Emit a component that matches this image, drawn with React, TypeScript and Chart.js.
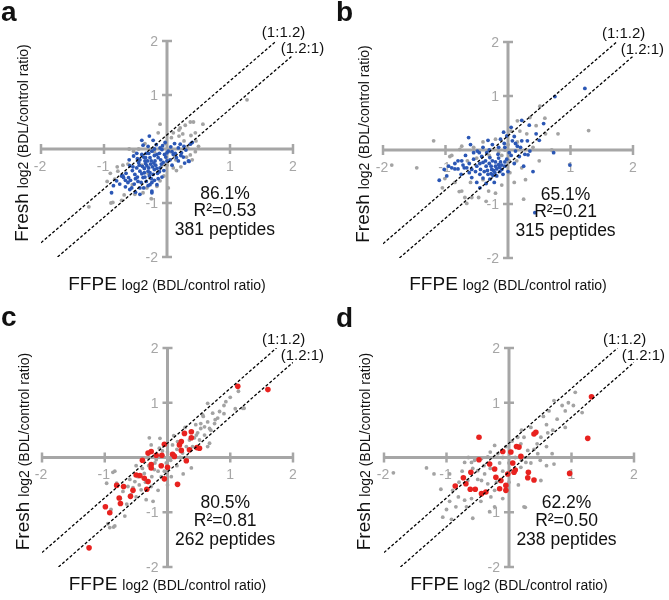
import React, { useEffect, useRef } from "react";
import { Chart, registerables } from "chart.js";
Chart.register(...registerables);

// ---------- data ----------
const axisTicks = [-2, -1, 1, 2];
const ratioOffset = 0.263; // log2(1.2) – reference lines (1:1.2) and (1.2:1)
const panelLetters = ["a", "b", "c", "d"];
const percentLabels = ["86.1%", "65.1%", "80.5%", "62.2%"];
const r2Labels = ["R\u00B2=0.53", "R\u00B2=0.21", "R\u00B2=0.81", "R\u00B2=0.50"];
const peptideLabels = ["381 peptides", "315 peptides", "262 peptides", "238 peptides"];
const lineLabels = ["(1:1.2)", "(1.2:1)"];

type P = [number, number];

const aHighlight: P[] = [
  [-0.28, 0.24], [-0.38, 0.07], [-0.07, 0.06], [0.06, 0.04], [0.21, 0.09], [0.37, 0.09], [0.34, -0.22], [0.1, -0.1],
  [0, -0.07], [-0.16, -0.1], [-0.27, -0.16], [-0.4, -0.1], [-0.48, -0.35], [-0.59, -0.31], [-0.69, -0.53], [-0.8, -0.59],
  [-0.88, -0.81], [-0.56, -0.72], [-0.43, -0.72], [-0.24, -0.78], [-0.38, -0.53], [-0.22, -0.47], [-0.11, -0.35], [-0.06, -0.25],
  [-0.32, -0.31], [-0.43, -0.41], [-0.3, -0.41], [-0.51, -0.47], [-0.19, -0.22], [-0.14, -0.16], [0.15, -0.16], [0.23, -0.07],
  [-0.08, -0.01], [-0.35, -0.22], [-0.24, -0.04], [-0.53, -0.13], [-0.72, -0.5], [-0.59, -0.75], [-0.43, -0.84], [-0.24, -0.62],
  [0.35, -0.23], [-0.24, -0.81], [0.02, -0.04], [-0.11, 0.02], [0.18, 0.02], [-0.4, 0.16], [-0.22, 0.16], [-0.7, -0.5],
  [-0.45, -0.25], [-0.36, -0.36], [-0.26, -0.28], [-0.2, -0.38], [-0.15, -0.45], [-0.5, -0.55], [-0.62, -0.62], [-0.33, -0.6],
  [-0.28, -0.5], [-0.18, -0.3], [-0.1, -0.2], [-0.02, -0.15], [0.05, -0.2], [0.12, 0.1], [0.27, 0.05], [0.3, -0.02],
  [-0.47, -0.18], [-0.55, -0.4], [-0.65, -0.45], [-0.41, -0.62], [-0.3, -0.68], [-0.14, -0.55], [-0.05, -0.4], [-0.37, -0.15],
  [-0.3, 0.05], [-0.17, 0.08], [-0.6, -0.2], [-0.75, -0.65], [-0.5, -0.8], [-0.16, -0.66], [0.08, -0.3], [0.22, -0.12],
  [-0.03, 0.12], [-0.25, -0.22], [-0.4, -0.46], [-0.46, -0.6], [-0.2, -0.58], [-0.12, -0.08], [-0.33, -0.08], [0.28, -0.26],
  [0.4, 0.12], [-0.85, -0.68], [-0.66, -0.7], [-0.34, -0.27], [-0.29, -0.35], [-0.23, -0.33], [-0.39, -0.32], [-0.27, -0.44],
  [-0.31, -0.22], [-0.21, -0.26], [-0.36, -0.44], [-0.44, -0.3], [-0.16, -0.36], [-0.09, -0.28], [-0.25, -0.55], [-0.35, -0.52],
  [-0.47, -0.52], [-0.54, -0.33], [-0.12, -0.42], [-0.04, -0.1], [0.08, -0.05], [0.13, -0.08], [-0.2, -0.12], [-0.29, -0.08],
  [-0.43, -0.2], [-0.61, -0.53], [-0.52, -0.65], [-0.37, -0.72], [-0.27, -0.66], [-0.08, -0.52], [0.0, -0.22], [-0.58, -0.58],
  [-0.66, -0.58], [-0.34, -0.16], [0.18, -0.22], [0.26, -0.15], [-0.2, 0.0], [-0.48, -0.08],
];
const aGray: P[] = [
  [1.27, 0.91], [-0.11, 0.46], [0.29, 0.44], [0.37, 0.5], [0.42, 0.5], [0.57, 0.46], [0.21, 0.39], [-1.24, -1.07],
  [-0.89, -1.0], [-0.79, -0.33], [-0.62, -0.28], [0.37, -0.11], [0.46, 0.15], [0.27, 0.15], [0.31, -0.15], [0.07, 0.21],
  [0.19, 0.24], [-0.53, -0.04], [-0.78, -0.41], [-0.83, -0.56], [-0.86, -0.99], [-0.51, -0.84], [-0.32, -0.72], [-0.11, -0.59],
  [-0.38, -0.81], [0.1, -0.35], [-0.16, -0.69], [0.19, 0.35], [0.14, -0.2], [0.22, -0.33], [0.45, 0.3], [0.38, 0.25],
  [0.1, 0.3], [-0.02, 0.1], [0.05, -0.05], [-0.2, -0.05], [-0.45, 0.0], [-0.7, -0.3], [-0.95, -0.6], [-0.72, -0.95],
  [-0.55, -0.66], [-0.05, -0.5], [0.0, -0.3], [0.15, -0.4], [0.45, -0.05], [0.5, 0.05], [0.25, 0.28], [-0.14, 0.3],
  [-0.35, 0.1], [-0.6, 0.0], [-0.9, -0.45], [0.02, -0.72], [-0.25, -0.92], [0.33, 0.02], [0.12, -0.12], [-0.08, -0.3],
  [-0.4, -0.3], [-0.3, -0.45], [0.4, -0.2], [-0.68, -0.85],
];

const bHighlight: P[] = [
  [1.23, 1.14], [0.75, 0.99], [0.57, 0.49], [0.22, 0.55], [0.34, 0.46], [-0.63, 0.23], [-1.1, -0.56], [0.73, -0.05],
  [0.99, -0.28], [0.4, -0.4], [0.32, -0.09], [0.43, -1.16], [-0.49, -0.02], [-0.74, -0.2], [-0.85, -0.35], [-0.98, -0.48],
  [-0.58, -0.36], [-0.4, -0.23], [-0.29, -0.14], [-0.26, -0.36], [-0.21, -0.42], [-0.15, -0.27], [-0.1, -0.36], [-0.02, -0.17],
  [0.07, 0.17], [0.22, 0.17], [0.31, 0.17], [0.15, 0.07], [0.27, -0.08], [-0.07, 0.33], [-0.02, 0.26], [-0.34, -0.05],
  [-0.45, -0.45], [-0.58, -0.51], [-0.29, -0.54], [-0.45, -0.7], [-0.55, -0.17], [-0.9, -0.33], [-0.8, -0.35], [-0.7, -0.33],
  [-0.62, -0.25], [-0.5, -0.3], [-0.35, -0.3], [-0.3, -0.25], [-0.2, -0.3], [-0.12, -0.22], [-0.05, -0.3], [0.05, -0.1],
  [0.12, -0.02], [0.2, 0.05], [0.1, 0.25], [-0.15, 0.05], [-0.25, 0.1], [-0.4, 0.05], [-0.55, -0.05], [-0.68, -0.1],
  [-0.95, -0.3], [-0.75, -0.45], [-0.62, -0.42], [-0.38, -0.4], [-0.32, -0.45], [-0.18, -0.48], [-0.08, -0.45], [0.0, -0.4],
  [-0.22, -0.6], [-0.35, -0.62], [-0.5, -0.6], [-0.15, -0.15], [-0.42, -0.12], [-0.3, 0.0], [0.35, -0.02], [0.45, 0.3],
  [0.05, 0.42], [-0.12, 0.2], [-0.8, -0.2], [-1.02, -0.36], [-0.25, -0.2], [-0.45, -0.25], [0.1, -0.25], [-0.05, 0.05],
  [0.25, -0.3], [0.5, 0.18], [-0.6, 0.1], [-0.32, 0.18], [-0.23, -0.38], [-0.18, -0.35], [-0.27, -0.44], [-0.13, -0.4],
  [-0.36, -0.2], [-0.44, -0.36], [-0.52, -0.4], [-0.66, -0.33], [-0.27, -0.3], [-0.2, -0.22], [-0.1, -0.28], [-0.05, -0.22],
  [-0.14, -0.32], [-0.33, -0.38], [-0.24, -0.47], [-0.4, -0.52], [-0.72, -0.28], [0.02, -0.05], [0.18, -0.12], [-0.16, -0.08],
  [-0.06, 0.12], [-0.46, -0.05], [-0.85, -0.25], [0.12, 0.12],
];
const bGray: P[] = [
  [0.51, 0.81], [0.59, 0.59], [1.29, 0.36], [0.15, 0.54], [-1.19, 0.17], [-0.74, 0.07], [-1.86, -0.28], [-1.46, -0.33],
  [0.7, 0.0], [0.25, -0.91], [-0.78, -0.77], [-0.66, -0.99], [-0.58, -0.88], [-0.31, -0.76], [-0.47, -0.88], [-1.01, -0.53],
  [-0.74, -0.76], [-0.69, -0.88], [0.19, 0.35], [0.14, -0.2], [0.22, -0.33], [0.03, -0.42], [-0.77, 0.01], [-0.93, -0.12],
  [-0.55, 0.05], [-0.4, 0.15], [-0.2, 0.2], [0.0, 0.1], [0.3, 0.3], [0.4, 0.05], [0.5, -0.2], [0.1, -0.6],
  [-0.1, -0.65], [-0.2, -0.8], [-0.85, -0.6], [-0.4, -0.55], [-0.05, 0.0], [0.15, 0.15], [-0.6, -0.6], [0.6, 0.3],
  [-0.3, -0.1], [-0.1, -0.1], [0.35, 0.6], [0.8, 0.3], [-0.9, -0.1], [0.02, -0.2], [-0.15, -0.05], [-0.5, -0.15],
  [0.45, 0.45], [-0.35, -0.95], [0.28, -0.55], [0.05, 0.35], [-1.05, -0.7], [-0.65, -0.2],
];

const cHighlight: P[] = [
  [1.12, 1.3], [1.6, 1.24], [-1.25, -1.65], [-0.99, -0.9], [-0.92, -1.01], [-0.77, -0.74], [-0.75, -0.84], [-0.81, -0.51],
  [-0.7, -0.53], [-0.59, -0.71], [-0.55, -0.6], [-0.5, -0.32], [-0.44, -0.33], [-0.37, -0.38], [-0.33, -0.58], [-0.4, -0.05],
  [-0.26, -0.13], [-0.26, -0.19], [-0.18, 0.04], [-0.1, -0.15], [-0.05, 0.24], [-0.05, -0.39], [0.08, 0.06], [0.11, 0.02],
  [0.16, -0.49], [0.22, 0.29], [0.19, 0.23], [0.27, 0.44], [0.38, 0.47], [0.38, 0.36], [0.22, 0.13], [0.35, 0.14],
  [0.3, -0.06], [0.47, 0.18], [0.51, 0.17], [-0.26, 0.11], [-0.09, 0.04], [-0.31, -0.44], [-0.31, 0.08], [0.0, -0.18],
];
const cGray: P[] = [
  [1.13, 1.21], [0.93, 1.02], [0.9, 0.95], [0.64, 0.99], [1.08, 0.89], [1.2, 0.9], [0.53, 0.62], [0.57, 0.75],
  [0.67, 0.53], [0.76, 0.69], [0.64, 0.2], [0.51, 0.32], [0.43, 0.36], [-0.29, 0.36], [-0.87, -0.27], [-0.97, -0.47],
  [-0.95, -1.21], [-0.86, -1.27], [-0.68, -1.07], [-0.23, -0.8], [-0.26, 0.23], [-0.13, 0.17], [0.08, 0.23], [0.16, 0.29],
  [0.24, 0.08], [0.11, 0.05], [-0.02, -0.1], [-0.1, -0.16], [-0.21, -0.22], [-0.37, -0.29], [-0.47, -0.35], [-0.52, -0.44],
  [-0.63, -0.53], [-0.84, -0.25], [-0.81, -0.47], [-0.71, -0.62], [-0.58, -0.68], [-0.42, -0.59], [-0.26, -0.53], [-0.1, -0.35],
  [-0.34, -0.77], [-0.84, -1.25], [-0.92, -1.28], [0.38, 0.35], [0.53, 0.53], [0.59, 0.41], [0.67, 0.26], [0.38, -0.19],
  [0.06, -0.35], [-0.07, 0.02], [-0.18, -0.04], [0.83, 0.84], [0.72, 0.81], [0.8, 0.72], [0.56, 0.78], [0.64, 0.65],
  [0.75, 0.62], [0.59, 0.56], [0.69, 0.5], [0.46, 0.41], [0.35, 0.32], [0.4, 0.2], [1.22, 0.9], [-0.15, -0.25],
  [-0.3, -0.15], [-0.25, -0.35], [-0.35, -0.45], [-0.45, -0.5], [-0.55, -0.55], [-0.4, -0.2], [-0.2, -0.1], [0.0, 0.1],
  [0.05, -0.05], [0.15, 0.15], [0.2, 0.0], [0.3, 0.2], [-0.05, -0.25], [-0.6, -0.4], [-0.75, -0.75], [-0.9, -0.95],
  [-0.65, -0.85], [-0.5, -0.72], [-0.15, -0.6], [0.0, -0.5], [-0.3, 0.0], [-0.12, 0.35], [0.1, 0.4], [0.28, 0.55],
  [0.45, 0.6], [0.48, 0.45], [-0.5, -0.15], [0.9, 0.8], [1.0, 1.1], [0.25, -0.3], [0.15, -0.15], [-0.08, 0.12],
];

const dHighlight: P[] = [
  [1.32, 1.11], [1.26, 0.35], [0.97, -0.29], [-0.48, 0.37], [0.4, 0.43], [0.43, 0.46], [0.16, 0.19], [0.03, 0.1],
  [-0.1, 0.11], [0.19, 0.02], [0.06, -0.1], [0.31, -0.27], [0.3, -0.37], [0.4, -0.41], [0.08, -0.27], [-0.02, -0.3],
  [-0.05, -0.51], [-0.05, -0.6], [-0.13, -0.42], [-0.21, -0.36], [-0.23, -0.21], [-0.31, -0.12], [-0.48, -0.04], [-0.61, -0.27],
  [-0.73, -0.37], [-0.69, -0.48], [-0.86, -0.52], [-0.62, -0.58], [-0.54, -0.58], [-0.44, -0.66], [-0.37, -0.63], [-0.15, -0.57],
  [0.1, -0.23], [0.12, 0.2],
];
const dGray: P[] = [
  [-1.32, -0.19], [-1.85, -0.28], [-1.06, -1.09], [-0.92, -1.13], [-0.58, -1.11], [-0.31, -0.99], [0.26, -0.91], [0.51, -0.42],
  [0.72, -0.12], [1.06, 1.19], [1.17, 0.82], [0.72, 1.04], [0.64, 0.85], [0.9, 0.85], [0.77, 0.7], [0.9, 0.55],
  [0.51, 0.37], [0.14, 0.37], [0.69, 0.07], [0.46, 0.07], [-1.09, -0.58], [-0.68, -0.9], [-0.71, -0.09], [-0.6, -0.09],
  [-0.55, -0.05], [-0.44, -0.02], [-0.34, 0.01], [-0.18, 0.07], [-0.23, 0.22], [-0.66, -0.42], [-0.44, -0.42], [-0.39, -0.3],
  [-0.5, -0.24], [-0.34, -0.48], [-0.29, -0.72], [-0.23, -0.6], [-0.81, -0.72], [-0.71, -0.78], [0.24, -0.9], [0.24, 0.37],
  [0.19, 0.25], [0.3, 0.13], [0.27, -0.09], [0.19, -0.18], [-0.23, -0.9], [0.6, 0.6], [0.55, 0.75], [0.85, 0.95],
  [0.95, 1.0], [0.35, 0.55], [0.45, 0.25], [0.6, 0.2], [0.4, 0.15], [0.35, -0.1], [0.6, -0.15], [0.5, -0.05],
  [0.1, 0.0], [0.0, -0.1], [-0.1, -0.25], [-0.15, -0.1], [-0.05, 0.2], [0.05, 0.3], [-0.3, -0.2], [-0.4, -0.15],
  [-0.5, -0.4], [-0.58, -0.2], [-0.75, -0.25], [-0.8, -0.45], [-0.9, -0.6], [-0.95, -0.8], [-1.0, -0.95], [-0.85, -0.9],
  [-0.6, -0.75], [-0.45, -0.8], [-0.1, -0.75], [0.0, -0.45], [-0.2, -0.45], [0.15, -0.5], [0.2, 0.5], [1.03, 0.95],
  [0.62, 0.45], [-0.65, 0.0], [-0.3, 0.1], [-0.1, 0.0], [0.2, -0.05], [0.7, 0.5], [-1.2, -0.3], [-0.95, -0.3],
];

// ---------- styling ----------
const FONT = '"Liberation Sans", Arial, Helvetica, sans-serif';
const AXIS_GRAY = "#a6a6a6";
const POINT_GRAY = "#a3a3a3";
const BLUE = "#2b57b5";
const RED = "#e8221f";

type PanelCfg = {
  idx: number;
  left: number;
  top: number;
  width: number;
  pad: { left: number; right: number; top: number; bottom: number };
  gray: P[];
  hi: P[];
  hiColor: string;
  hiRadius: number;
  letterBase: number;
};

const panels: PanelCfg[] = [
  { idx: 0, left: 0, top: 0, width: 335, pad: { left: 41, right: 42, top: 41, bottom: 43 }, gray: aGray, hi: aHighlight, hiColor: BLUE, hiRadius: 1.9, letterBase: 21 },
  { idx: 1, left: 335, top: 0, width: 334, pad: { left: 48, right: 36, top: 42, bottom: 42 }, gray: bGray, hi: bHighlight, hiColor: BLUE, hiRadius: 1.9, letterBase: 21 },
  { idx: 2, left: 0, top: 300, width: 335, pad: { left: 42, right: 42, top: 48, bottom: 33 }, gray: cGray, hi: cHighlight, hiColor: RED, hiRadius: 2.8, letterBase: 26 },
  { idx: 3, left: 335, top: 300, width: 334, pad: { left: 49, right: 35, top: 48, bottom: 33 }, gray: dGray, hi: dHighlight, hiColor: RED, hiRadius: 2.8, letterBase: 27 },
];

function makeDecor(cfg: PanelCfg) {
  return {
    id: "decor" + cfg.idx,
    beforeDatasetsDraw(chart: any) {
      const ctx = chart.ctx as CanvasRenderingContext2D;
      const xs = chart.scales.x;
      const ys = chart.scales.y;
      const x0 = xs.getPixelForValue(0);
      const y0 = ys.getPixelForValue(0);
      ctx.save();
      ctx.strokeStyle = AXIS_GRAY;
      ctx.lineWidth = 3;
      ctx.beginPath();
      ctx.moveTo(xs.getPixelForValue(-2), y0);
      ctx.lineTo(xs.getPixelForValue(2), y0);
      ctx.moveTo(x0, ys.getPixelForValue(2));
      ctx.lineTo(x0, ys.getPixelForValue(-2));
      ctx.stroke();
      ctx.lineWidth = 2.5;
      ctx.beginPath();
      for (const t of axisTicks) {
        const px = xs.getPixelForValue(t);
        ctx.moveTo(px, y0 - 5);
        ctx.lineTo(px, y0 + 5);
        const py = ys.getPixelForValue(t);
        ctx.moveTo(x0 - 5, py);
        ctx.lineTo(x0 + 5, py);
      }
      ctx.stroke();
      ctx.fillStyle = AXIS_GRAY;
      ctx.font = `14px ${FONT}`;
      for (const t of axisTicks) {
        const lab = t < 0 ? "-" + Math.abs(t) : String(t);
        ctx.textAlign = "center";
        ctx.textBaseline = "top";
        ctx.fillText(lab, xs.getPixelForValue(t) + (t < 0 ? -1 : 0), y0 + 11);
        ctx.textAlign = "right";
        ctx.textBaseline = "middle";
        ctx.fillText(lab, x0 - 9, ys.getPixelForValue(t) + 1);
      }
      ctx.restore();
    },
    afterDatasetsDraw(chart: any) {
      const ctx = chart.ctx as CanvasRenderingContext2D;
      const xs = chart.scales.x;
      const ys = chart.scales.y;
      const x0 = xs.getPixelForValue(0);
      const y0 = ys.getPixelForValue(0);
      ctx.save();
      ctx.fillStyle = "#111";
      // stats
      ctx.font = `17.5px ${FONT}`;
      ctx.textAlign = "center";
      ctx.textBaseline = "middle";
      const sx = xs.getPixelForValue(0.92);
      ctx.fillText(percentLabels[cfg.idx], sx, ys.getPixelForValue(-0.83));
      ctx.fillText(r2Labels[cfg.idx], sx, ys.getPixelForValue(-1.16));
      ctx.fillText(peptideLabels[cfg.idx], sx, ys.getPixelForValue(-1.51));
      // line labels
      ctx.font = `15px ${FONT}`;
      ctx.fillText(lineLabels[0], xs.getPixelForValue(1.85), ys.getPixelForValue(2.15));
      ctx.fillText(lineLabels[1], xs.getPixelForValue(2.15), ys.getPixelForValue(1.86));
      // panel letter
      ctx.textAlign = "left";
      ctx.textBaseline = "alphabetic";
      ctx.font = `bold 28px ${FONT}`;
      ctx.fillText(panelLetters[cfg.idx], 1, cfg.letterBase);
      // axis titles
      const big = "FFPE";
      const small = "log2 (BDL/control ratio)";
      ctx.font = `19px ${FONT}`;
      const wBig = ctx.measureText(big).width;
      ctx.font = `14px ${FONT}`;
      const wSmall = ctx.measureText(small).width;
      const gap = 5;
      const tot = wBig + gap + wSmall;
      const start = x0 - tot / 2;
      ctx.font = `19px ${FONT}`;
      ctx.fillText(big, start, 290);
      ctx.font = `14px ${FONT}`;
      ctx.fillText(small, start + wBig + gap, 290);
      // y title
      const bigY = "Fresh";
      ctx.font = `19px ${FONT}`;
      const wBigY = ctx.measureText(bigY).width;
      const totY = wBigY + gap + wSmall;
      ctx.translate(x0 - 139, y0 - 6);
      ctx.rotate(-Math.PI / 2);
      ctx.fillText(bigY, -totY / 2, 0);
      ctx.font = `14px ${FONT}`;
      ctx.fillText(small, -totY / 2 + wBigY + gap, 0);
      ctx.restore();
    },
  };
}

function Panel({ cfg }: { cfg: PanelCfg }) {
  const ref = useRef<HTMLCanvasElement | null>(null);
  useEffect(() => {
    if (!ref.current) return;
    const toXY = (arr: P[]) => arr.map(([x, y]) => ({ x, y }));
    const chart = new Chart(ref.current, {
      type: "scatter",
      data: {
        datasets: [
          {
            data: [
              { x: -2, y: -2 + ratioOffset },
              { x: 2 - ratioOffset, y: 2 },
            ],
            showLine: true,
            borderColor: "#000",
            borderWidth: 1.3,
            borderDash: [3, 2],
            pointRadius: 0,
            order: 0,
          } as any,
          {
            data: [
              { x: -2 + ratioOffset, y: -2 },
              { x: 2, y: 2 - ratioOffset },
            ],
            showLine: true,
            borderColor: "#000",
            borderWidth: 1.3,
            borderDash: [3, 2],
            pointRadius: 0,
            order: 0,
          } as any,
          {
            data: toXY(cfg.hi),
            backgroundColor: cfg.hiColor,
            borderWidth: 0,
            pointRadius: cfg.hiRadius,
            order: 1,
          },
          {
            data: toXY(cfg.gray),
            backgroundColor: POINT_GRAY,
            borderWidth: 0,
            pointRadius: 1.9,
            order: 2,
          },
        ],
      },
      options: {
        animation: false,
        responsive: false,
        events: [],
        layout: { padding: cfg.pad },
        scales: {
          x: { type: "linear", min: -2, max: 2, display: false },
          y: { type: "linear", min: -2, max: 2, display: false },
        },
        plugins: { legend: { display: false }, tooltip: { enabled: false } },
      },
      plugins: [makeDecor(cfg)],
    });
    return () => chart.destroy();
  }, [cfg]);
  return (
    <canvas
      ref={ref}
      width={cfg.width}
      height={300}
      style={{ position: "absolute", left: cfg.left, top: cfg.top, width: cfg.width, height: 300 }}
    />
  );
}

export default function App() {
  return (
    <div style={{ position: "absolute", left: 0, top: 0, width: 669, height: 600, background: "#fff", overflow: "hidden" }}>
      {panels.map((p) => (
        <Panel key={p.idx} cfg={p} />
      ))}
    </div>
  );
}
